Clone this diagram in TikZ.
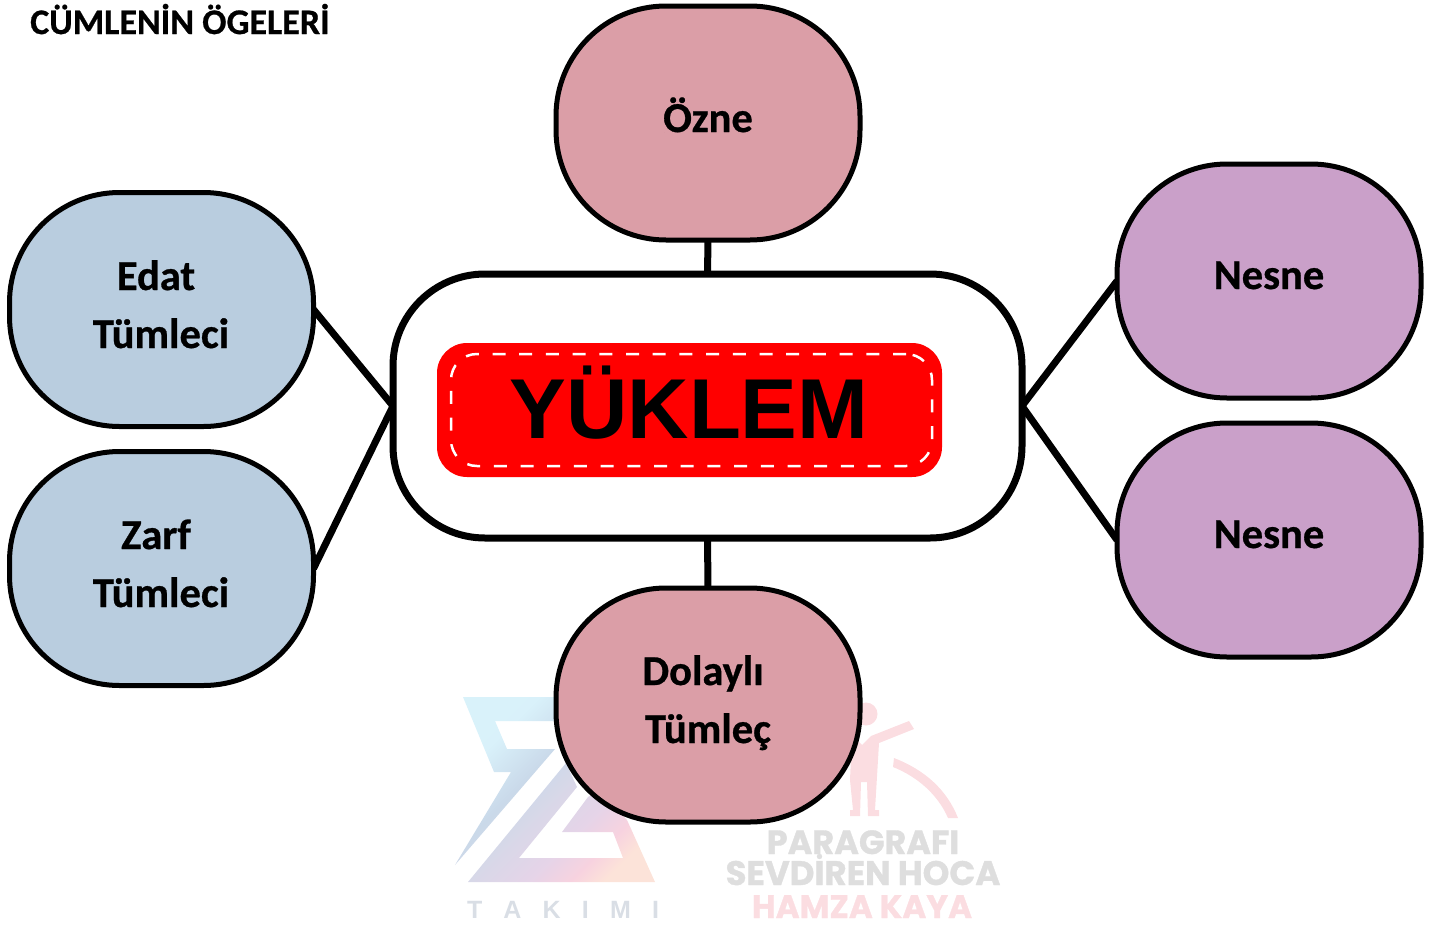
\documentclass[tikz,border=0pt]{standalone}
\usepackage{fontspec}
\setmainfont{Carlito}[BoldFeatures={FakeBold=0.7}]
\newfontfamily\arialfont{Liberation Sans}
\newfontfamily\wmfont{Poppins}[BoldFeatures={FakeBold=1}]
\usetikzlibrary{backgrounds}
\definecolor{pinkbox}{HTML}{DB9EA7}
\definecolor{bluebox}{HTML}{B9CDDF}
\definecolor{purplebox}{HTML}{CAA0C9}
\definecolor{wmgray}{HTML}{DEDEDE}
\definecolor{wmpink}{HTML}{FBDDE1}
\definecolor{wmtak}{HTML}{D9DEE5}
\pgfdeclarehorizontalshading{zlogo}{100bp}{
 rgb(0bp)=(0.85,0.95,0.98);
 rgb(25bp)=(0.85,0.95,0.98);
 rgb(30bp)=(0.85,0.945,0.98);
 rgb(43bp)=(0.79,0.85,0.915);
 rgb(52bp)=(0.85,0.845,0.91);
 rgb(62bp)=(0.90,0.83,0.91);
 rgb(70bp)=(0.97,0.825,0.875);
 rgb(76bp)=(0.99,0.89,0.85);
 rgb(100bp)=(0.99,0.89,0.85)}
\tikzset{
 ogebox/.style={draw=black,line width=5pt,rounded corners=110pt,minimum width=304pt,minimum height=234pt,inner sep=0pt,outer sep=0pt},
 lbl/.style={font=\fontsize{42.5}{42.5}\selectfont\bfseries,inner sep=0pt,anchor=base},
 conn/.style={line width=7pt,draw=black},
 wmtext/.style={font=\wmfont\bfseries,inner sep=0pt}
}
\begin{document}
\begin{tikzpicture}[x=1pt,y=-1pt]
\useasboundingbox (0,0) rectangle (1437,929);
% boxes
\node[ogebox,fill=pinkbox] (ozne) at (708,123) {};
\node[ogebox,fill=pinkbox] (dolayli) at (708,705) {};
\node[ogebox,fill=bluebox] (edat) at (161.5,309.5) {};
\node[ogebox,fill=bluebox] (zarf) at (161.5,568.5) {};
\node[ogebox,fill=purplebox] (nesnea) at (1269,281) {};
\node[ogebox,fill=purplebox] (nesneb) at (1269,540) {};
\node[draw=black,line width=7pt,fill=white,rounded corners=92pt,minimum width=629pt,minimum height=264pt,inner sep=0pt,outer sep=0pt] (merkez) at (707.5,406) {};
\node[fill=red,rounded corners=30pt,minimum width=505pt,minimum height=134pt,inner sep=0pt,outer sep=0pt] (kirmizi) at (689.5,410) {};
\node[draw=white,line width=2.5pt,dash pattern=on 13pt off 13.7pt,rounded corners=26pt,minimum width=481pt,minimum height=112pt,inner sep=0pt,outer sep=0pt] (kesik) at (691.5,410) {};
% connectors and watermark
\begin{pgfonlayer}{background}
\shade[shading=zlogo,shading angle=-45]
 (463,697) -- (565,697) -- (565,721) -- (495,721) -- (507,749) -- (555,749) -- (455,865) -- (511,772) -- (494,772) -- cycle
 (468,882) -- (655,882) -- (627,820) -- (600,790) -- (588,797) -- (562,832) -- (613,832) -- (623,858) -- (519,858) -- (577,787) -- (566,763) -- cycle;
\fill[wmpink] (866,714) circle (11.5);
\fill[wmpink] (914,729) -- (909,721) -- (871,736) -- (862,745) -- (852,735) -- (850,780) -- (853,810) -- (850,810) -- (850,816) -- (860,816) -- (861,782) -- (867,782) -- (868,816) -- (879,816) -- (879,810) -- (875,810) -- (879,743) -- cycle;
\fill[wmpink] (894,758) .. controls (925,770) and (947,790) .. (958,818) -- (948,818) .. controls (938,795) and (918,777) .. (893,767) -- cycle;
\draw[conn] (ozne.south) -- (merkez.north);
\draw[conn] (merkez.south) -- (dolayli.north);
\draw[conn] (edat.east) -- (merkez.west);
\draw[conn] (zarf.east) -- (merkez.west);
\draw[conn] (nesnea.west) -- (merkez.east);
\draw[conn] (nesneb.west) -- (merkez.east);
\end{pgfonlayer}
% labels
\node[font=\fontsize{36}{36}\selectfont\bfseries,inner sep=0pt,anchor=base west] (baslik) at (30,34) {CÜMLENİN ÖGELERİ};
\node[lbl] (tozne) at (708,132) {Özne};
\node[lbl] (tedat) at (156,290) {Edat};
\node[lbl] (tedatb) at (161,348) {Tümleci};
\node[lbl] (tzarf) at (156,549) {Zarf};
\node[lbl] (tzarfb) at (161,607) {Tümleci};
\node[lbl] (tnesa) at (1269,289) {Nesne};
\node[lbl] (tnesb) at (1269,548) {Nesne};
\node[lbl] (tdol) at (703,685) {Dolaylı};
\node[lbl] (tdolb) at (708,743) {Tümleç};
\node[font=\arialfont\bfseries\fontsize{85}{85}\selectfont,inner sep=0pt,anchor=base] (yuklem) at (689,438) {YÜKLEM};
% watermark texts
\node[wmtext,text=wmtak,font=\arialfont\bfseries\fontsize{25}{25}\selectfont,anchor=base] (takimi) at (563,918) {\makebox[192pt][s]{T\hfil A\hfil K\hfil I\hfil M\hfil I}};
\node[wmtext,text=wmgray,font=\wmfont\bfseries\fontsize{33.5}{33.5}\selectfont,anchor=base] (wma) at (863,854) {PARAGRAFI};
\node[wmtext,text=wmgray,font=\wmfont\bfseries\fontsize{34}{34}\selectfont,anchor=base] (wmb) at (863,885) {SEVDİREN HOCA};
\node[wmtext,text=wmpink,font=\wmfont\bfseries\fontsize{32.5}{32.5}\selectfont,anchor=base] (wmc) at (862,918) {HAMZA KAYA};
\end{tikzpicture}
\end{document}
